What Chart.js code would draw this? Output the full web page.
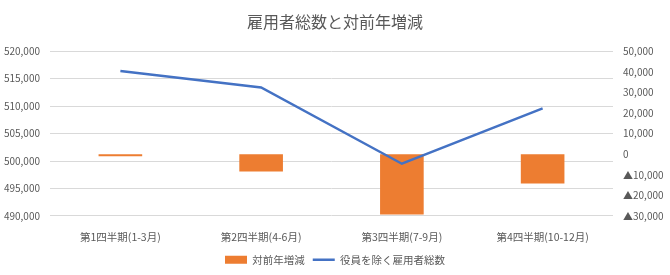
<!DOCTYPE html>
<html>
<head>
<meta charset="utf-8">
<script src="https://cdn.jsdelivr.net/npm/chart.js@4"></script>
<style>
  html, body { margin: 0; padding: 0; background: #fff; }
  #wrap { width: 670px; height: 275px; }
</style>
</head>
<body>
<div id="wrap"><canvas id="myChart"></canvas></div>
<script>
const categories = ['第1四半期(1-3月)', '第2四半期(4-6月)', '第3四半期(7-9月)', '第4四半期(10-12月)'];
const yoyChange = [-1000, -8400, -29300, -14300];
const employees = [516400, 513400, 499500, 509600];
const leftTicks = { min: 490000, max: 520000, step: 5000 };
const rightTicks = { min: -30000, max: 50000, step: 10000 };

const fontFamily = "'Noto Sans CJK JP', 'Noto Sans', sans-serif";
const textColor = '#595959';

Chart.defaults.font.family = fontFamily;
Chart.defaults.color = textColor;

function fmt(v) {
    if (v < 0) return '▲' + Math.abs(v).toLocaleString('en-US');
    return v.toLocaleString('en-US');
}

const ctx = document.getElementById('myChart');
const myChart = new Chart(ctx, {
    type: 'bar',
    data: {
        labels: categories,
        datasets: [{
            type: 'bar',
            label: '対前年増減',
            data: yoyChange,
            backgroundColor: '#ED7D31',
            yAxisID: 'y1',
            categoryPercentage: 1,
            barPercentage: 0.31,
            order: 2
        }, {
            type: 'line',
            label: '役員を除く雇用者総数',
            data: employees,
            borderColor: '#4472C4',
            backgroundColor: '#4472C4',
            borderWidth: 2.5,
            pointRadius: 0,
            tension: 0,
            yAxisID: 'y',
            order: 1
        }]
    },
    options: {
        responsive: true,
        maintainAspectRatio: false,
        animation: false,
        layout: { padding: { left: 0, right: 0, top: 4, bottom: 0 } },
        plugins: {
            title: {
                display: true,
                text: '雇用者総数と対前年増減',
                font: { size: 16, weight: 'normal' },
                color: textColor,
                padding: { top: 8, bottom: 20 }
            },
            legend: {
                position: 'bottom',
                labels: {
                    usePointStyle: true,
                    pointStyleWidth: 22,
                    boxHeight: 8,
                    font: { size: 10.5 },
                    color: textColor,
                    padding: 8,
                    generateLabels: function(chart) {
                        return chart.data.datasets.map((ds, i) => ({
                            text: ds.label,
                            fillStyle: ds.backgroundColor,
                            strokeStyle: ds.type === 'line' ? ds.borderColor : ds.backgroundColor,
                            lineWidth: ds.type === 'line' ? 2.5 : 0,
                            pointStyle: ds.type === 'line' ? 'line' : 'rect',
                            fontColor: textColor,
                            datasetIndex: i,
                            hidden: false
                        }));
                    }
                }
            },
            tooltip: { enabled: false }
        },
        scales: {
            x: {
                grid: { display: false },
                border: { display: false },
                ticks: { font: { size: 10.5 }, color: textColor, padding: 7, maxRotation: 0 },
                afterFit: function(scale) { scale.height -= 4; }
            },
            y: {
                position: 'left',
                min: leftTicks.min,
                max: leftTicks.max,
                ticks: {
                    stepSize: leftTicks.step,
                    font: { size: 10 },
                    color: textColor,
                    padding: 10,
                    callback: v => fmt(v)
                },
                grid: { color: '#D9D9D9', lineWidth: 1, drawTicks: false },
                border: { display: false },
                afterFit: function(scale) { scale.width = 50; }
            },
            y1: {
                position: 'right',
                min: rightTicks.min,
                max: rightTicks.max,
                ticks: {
                    stepSize: rightTicks.step,
                    font: { size: 10 },
                    color: textColor,
                    padding: 10,
                    callback: v => fmt(v)
                },
                grid: { display: false, drawTicks: false },
                border: { display: false },
                afterFit: function(scale) { scale.width = 57; }
            }
        }
    }
});
</script>
</body>
</html>
